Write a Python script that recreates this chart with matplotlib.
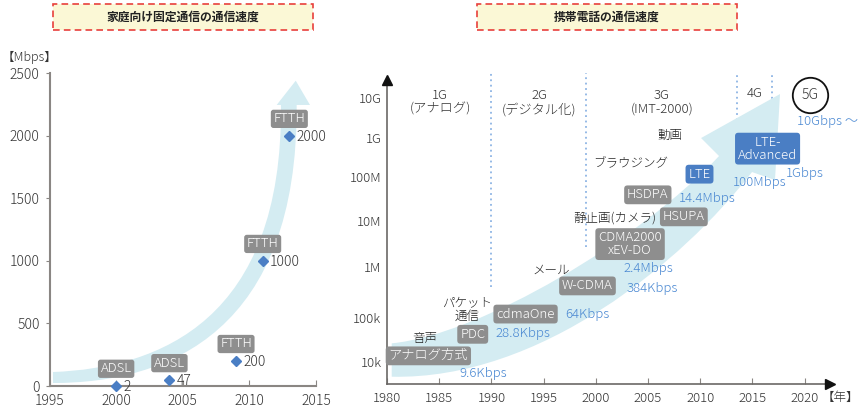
import matplotlib
matplotlib.use("Agg")
import matplotlib.pyplot as plt
from matplotlib.patches import Rectangle, PathPatch
from matplotlib.path import Path

plt.rcParams['font.family'] = ['Noto Sans CJK JP', 'DejaVu Sans']
plt.rcParams['font.weight'] = 'light'

# ---- data: fixed line (left) ----
fixed_years = [2000, 2004, 2009, 2011, 2013]
fixed_speeds = [2, 47, 200, 1000, 2000]
fixed_techs = ['ADSL', 'ADSL', 'FTTH', 'FTTH', 'FTTH']
fixed_xticks = [1995, 2000, 2005, 2010, 2015]
fixed_yticks = [0, 500, 1000, 1500, 2000, 2500]

# ---- data: mobile (right) ----
mobile_techs = ['アナログ方式', 'PDC', 'cdmaOne', 'W-CDMA', 'CDMA2000\nxEV-DO',
                'HSDPA', 'HSUPA', 'LTE', 'LTE-\nAdvanced']
mobile_speeds = ['9.6Kbps', '28.8Kbps', '64Kbps', '384Kbps', '2.4Mbps',
                 '14.4Mbps', None, '100Mbps', '1Gbps']
mobile_is_4g = [False, False, False, False, False, False, False, True, True]
uses = ['音声', 'パケット\n通信', 'メール', '静止画(カメラ)', 'ブラウジング', '動画']
generations = ['1G\n(アナログ)', '2G\n(デジタル化)', '3G\n(IMT-2000)', '4G']
gen_bounds = [1990, 1999.1, 2013.5, 2016.9]
next_gen = '5G'
next_gen_speed = '10Gbps ～'
speed_ticks = ['10k', '100k', '1M', '10M', '100M', '1G', '10G']
mobile_xticks = [1980, 1985, 1990, 1995, 2000, 2005, 2010, 2015, 2020]

# ---- layout (schematic positions: year, level) ----
speed_tick_lv = [4.0, 5.0, 6.16, 7.2, 8.21, 9.09, 10.0]
tech_pos = [(1983.96, 4.14), (1988.21, 4.63), (1993.27, 5.09), (1999.2, 5.73),
            (2003.28, 6.68), (2004.98, 7.8), (2008.43, 7.3), (2009.93, 8.27),
            (2016.45, 8.85)]
speed_pos = [(1989.18, 3.74), (1993.01, 4.65), (1999.18, 5.07), (2005.38, 5.68),
             (2005.0, 6.13), (2010.7, 7.72), None, (2015.68, 8.08), (2020.04, 8.29)]
use_pos = [(1983.64, 4.54), (1987.63, 5.2), (1995.69, 6.09), (2001.81, 7.27),
           (2003.37, 8.52), (2007.11, 9.16)]
gen_pos = [(1985.08, 9.9), (1994.55, 9.9), (2006.32, 9.9), (2015.25, 10.1)]
gen_line_bottom = [5.7, 6.61, 9.0, 9.0]
next_gen_pos = (2020.52, 10.07)
next_gen_speed_pos = (2022.15, 9.46)

GRAY = '#8e8e8e'
BLUE = '#4a7ec4'
BLUE_TXT = '#4a88d2'
BAND = '#d4ecf2'
TXT = '#333333'
AXC = '#8a8683'

fig = plt.figure(figsize=(8.61, 4.08), dpi=100)

# ---- title boxes ----
for x0, x1, title in [(53, 313, '家庭向け固定通信の通信速度'), (477, 737, '携帯電話の通信速度')]:
    fig.add_artist(Rectangle((x0 / 861, 1 - 30 / 408), (x1 - x0) / 861, 26 / 408,
                             transform=fig.transFigure, fc='#fbf8d6', ec='#e8403c',
                             lw=1.2, ls=(0, (4, 2.5))))
    fig.text((x0 + x1) / 2 / 861, 1 - 17 / 408, title, ha='center', va='center',
             fontsize=8.5, fontweight='bold', color='#222222')

# ================= left chart =================
ax1 = fig.add_axes([0.0575, 0.0539, 0.3095, 0.7664])
ax1.set_xlim(1995, 2015)
ax1.set_ylim(0, 2500)
for s in ['top', 'right']:
    ax1.spines[s].set_visible(False)
for s in ['left', 'bottom']:
    ax1.spines[s].set_color(AXC)
    ax1.spines[s].set_linewidth(1.5)
ax1.set_xticks(fixed_xticks)
ax1.set_yticks(fixed_yticks)
ax1.tick_params(axis='x', direction='in', length=4, color=AXC, pad=6,
                labelsize=10, labelcolor=TXT)
ax1.tick_params(axis='y', direction='out', length=3, color=AXC, pad=4,
                labelsize=10, labelcolor=TXT)

# curved arrow band
band1 = Path([(1995.26, 112), (2003.29, 144), (2012.52, 528), (2012.37, 2247),
              (2012.05, 2247), (2013.48, 2441), (2014.55, 2247),
              (2013.55, 2247), (2013.65, 448), (2004.04, 24), (1995.26, 24),
              (1995.26, 112)],
             [Path.MOVETO, Path.CURVE4, Path.CURVE4, Path.CURVE4,
              Path.LINETO, Path.LINETO, Path.LINETO,
              Path.LINETO, Path.CURVE4, Path.CURVE4, Path.CURVE4,
              Path.CLOSEPOLY])
ax1.add_patch(PathPatch(band1, fc=BAND, ec='none', zorder=1))

ax1.plot(fixed_years, fixed_speeds, ls='none', marker='D', ms=5.3,
         color=BLUE, zorder=4, clip_on=False)
for yr, v, t in zip(fixed_years, fixed_speeds, fixed_techs):
    ax1.annotate(str(v), (yr, v), xytext=(7, -1), textcoords='offset pixels',
                 ha='left', va='center', fontsize=10, color=TXT, zorder=5,
                 annotation_clip=False)
    ax1.annotate(t, (yr, v), xytext=(0, 17), textcoords='offset pixels',
                 ha='center', va='center', fontsize=9.5, color='white', zorder=5,
                 annotation_clip=False,
                 bbox=dict(boxstyle='round,pad=0.2,rounding_size=0.2',
                           fc=GRAY, ec='none'))

fig.text(2 / 861, 1 - 57 / 408, '【Mbps】', ha='left', va='center',
         fontsize=9, color=TXT)

# ================= right chart =================
ax2 = fig.add_axes([0.4495, 0.0588, 0.5145, 0.7451])
ax2.set_xlim(1980, 2022.43)
ax2.set_ylim(3.5, 10.41)
for s in ['top', 'right']:
    ax2.spines[s].set_visible(False)
for s in ['left', 'bottom']:
    ax2.spines[s].set_color('#6b6866')
    ax2.spines[s].set_linewidth(1.2)
ax2.set_xticks(mobile_xticks)
ax2.set_yticks(speed_tick_lv)
ax2.set_yticklabels(speed_ticks)
ax2.tick_params(axis='x', direction='in', length=4, color='#8a8683', pad=6,
                labelsize=9.5, labelcolor=TXT)
ax2.tick_params(axis='y', length=0, pad=4, labelsize=9.5, labelcolor=TXT)
ax2.plot([0], [1], marker='^', ms=6.5, color='#111111', transform=ax2.transAxes,
         clip_on=False, zorder=6)
ax2.plot([1], [0], marker='>', ms=6.5, color='#111111', transform=ax2.transAxes,
         clip_on=False, zorder=6)
fig.text(859 / 861, 1 - 397 / 408, '【年】', ha='right', va='center',
         fontsize=9, color=TXT)

# generation boundaries
for xb, yb in zip(gen_bounds, gen_line_bottom):
    ax2.plot([xb, xb], [yb, 10.57], ls=(0, (1, 2)), lw=1.3, color='#8db4e4',
             zorder=0.5, clip_on=False)

# big arrow band
band2 = Path([(1980.45, 4.425), (1988.91, 4.614), (2004.23, 6.773), (2011.8, 8.682),
              (2010.08, 9.091), (2017.64, 10.091), (2017.16, 8.136),
              (2014.96, 8.318), (2008.31, 6.273), (1994.66, 3.591), (1980.45, 3.666),
              (1980.45, 4.425)],
             [Path.MOVETO, Path.CURVE4, Path.CURVE4, Path.CURVE4,
              Path.LINETO, Path.LINETO, Path.LINETO,
              Path.LINETO, Path.CURVE4, Path.CURVE4, Path.CURVE4,
              Path.CLOSEPOLY])
ax2.add_patch(PathPatch(band2, fc=BAND, ec='none', zorder=1))

for (gx, gy), g in zip(gen_pos, generations):
    ax2.text(gx, gy, g, ha='center', va='center', fontsize=9.5, color=TXT,
             linespacing=1.05, zorder=3)

ax2.plot([next_gen_pos[0]], [next_gen_pos[1]], marker='o', ms=25.5, mfc='white',
         mec='#111111', mew=1.3, ls='none', clip_on=False, zorder=3)
ax2.text(next_gen_pos[0], next_gen_pos[1], next_gen, ha='center', va='center',
         fontsize=10, color=TXT, zorder=4)
ax2.text(next_gen_speed_pos[0], next_gen_speed_pos[1], next_gen_speed,
         ha='center', va='center', fontsize=9.5, color=BLUE_TXT, zorder=4,
         clip_on=False)

for (ux, uy), u in zip(use_pos, uses):
    ax2.text(ux, uy, u, ha='center', va='center', fontsize=9, color='#222222',
             linespacing=1.1, zorder=3)

for (tx, ty), t, sp, spos, is4g in zip(tech_pos, mobile_techs, mobile_speeds,
                                        speed_pos, mobile_is_4g):
    ax2.text(tx, ty, t, ha='center', va='center', fontsize=9.5, color='white',
             linespacing=1.0, zorder=4,
             bbox=dict(boxstyle='round,pad=0.22,rounding_size=0.25',
                       fc=BLUE if is4g else GRAY, ec='none'))
    if sp is not None:
        ax2.text(spos[0], spos[1], sp, ha='center', va='center', fontsize=9.5,
                 color=BLUE_TXT, zorder=4)

fig.savefig('out.png', dpi=100)
